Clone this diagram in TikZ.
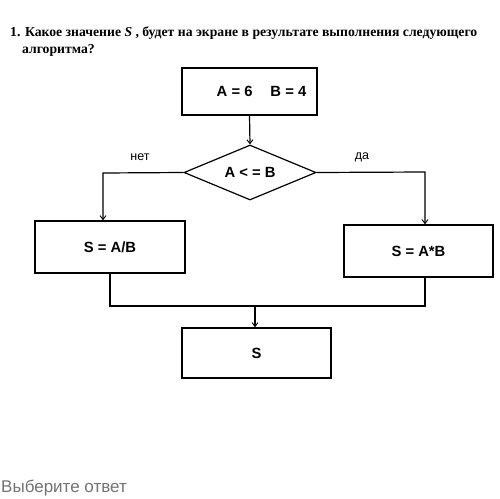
\documentclass[tikz,border=0pt]{standalone}
\usepackage{fontspec}
\setmainfont{Liberation Serif}
\setsansfont{Liberation Sans}
\usetikzlibrary{arrows.meta,shapes.geometric}
\begin{document}
\begin{tikzpicture}[x=1pt,y=-1pt,
  box/.style={draw,line width=1.4pt,rectangle,inner sep=0pt,font=\sffamily\bfseries\fontsize{14.8}{16}\selectfont},
  dia/.style={draw,line width=1.2pt,diamond,aspect=2.4,inner sep=0pt,minimum width=132pt,minimum height=55pt,font=\sffamily\bfseries\fontsize{14.8}{16}\selectfont},
  conn/.style={line width=1.2pt},
  arr/.style={conn,-{Straight Barb[length=4pt,width=6pt,line width=0.9pt]}},
  lbl/.style={font=\sffamily\fontsize{12.5}{14}\selectfont,inner sep=0pt},
  ttl/.style={font=\bfseries\fontsize{13.7}{15}\selectfont,inner sep=0pt,anchor=base west}]
\useasboundingbox (0,0) rectangle (500,498);
\fill[white] (0,0) rectangle (500,498);
% title
\node[ttl] (t1) at (10,36.5) {1. Какое значение \textit{S} , будет на экране в результате выполнения следующего};
\node[ttl] (t2) at (22,53) {алгоритма?};
% nodes
\node[box,minimum width=135pt,minimum height=47pt] (b1) at (249.5,91.5) {\hspace*{24pt}A = 6\hspace{18pt}B = 4};
\node[dia] (d) at (250,172.5) {A < = B};
\node[box,minimum width=150pt,minimum height=52pt] (b2) at (110,247) {S = A/B};
\node[box,minimum width=149pt,minimum height=52pt] (b3) at (418.5,251) {S = A*B};
\node[box,minimum width=149pt,minimum height=50pt] (b4) at (256.5,353) {S};
% labels
\node[lbl] (no) at (140,157) {нет};
\node[lbl] (yes) at (362,157) {да};
% connectors
\coordinate (cl) at (103,173);
\coordinate (cr) at (425,172);
\coordinate (mr) at (425,306);
\coordinate (m) at (255,306);
\draw[arr] (b1.south) -- (d.north);
\draw[arr] (d.west) -- (cl) -- (cl |- b2.north);
\draw[arr] (d.east) -- (cr) -- (cr |- b3.north);
\draw[conn] (b2.south) |- (mr) -- (mr |- b3.south);
\draw[arr] (m) -- (m |- b4.north);
% footer
\node[font=\sffamily\fontsize{17}{19}\selectfont,text=black!55,anchor=north west,inner sep=0pt] (ft) at (1,480) {Выберите ответ};
\end{tikzpicture}
\end{document}
